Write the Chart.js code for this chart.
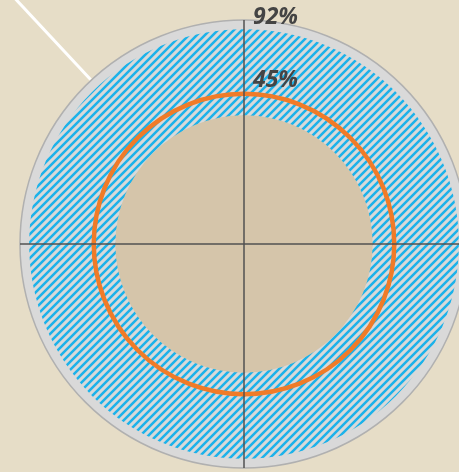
<!DOCTYPE html>
<html>
<head>
<meta charset="utf-8">
<script src="https://cdn.jsdelivr.net/npm/chart.js"></script>
<style>
  html, body { margin: 0; padding: 0; overflow: hidden; background: #e6ddc7; }
  body { width: 459px; height: 472px; position: relative; }
  .polar-chart { position: absolute; left: 0; top: 0; width: 488px; height: 488px; }
</style>
</head>
<body>
<div class="polar-chart"><canvas id="chart"></canvas></div>
<script>
// values (area-proportional, % of the full disc)
const seriesNames = ['Base', 'Achieved', 'Full scale'];
const seriesValues = [33, 92, 100];
const ringTicks = [0, 45, 100];          // 45 = target ring, 100 = outer edge
const labelValues = [92, 45];
const labelTexts = ['92%', '45%'];
const spokeLabels = ['N', 'E', 'S', 'W'];
const leaderAngle = -133;                // degrees, callout line

const ORANGE = '#f07b28';
const EDGE = '#b0b0b0';

// radius grows with sqrt so that disc areas match the percentages
class SqrtRadialScale extends Chart.RadialLinearScale {
    getDistanceFromCenterForValue(value) {
        if (isNaN(value)) return NaN;
        const frac = Math.max((value - this.min) / (this.max - this.min), 0);
        return this.drawingArea * Math.sqrt(frac);
    }
}
SqrtRadialScale.id = 'sqrtRadial';
Chart.register(SqrtRadialScale);

const canvas = document.getElementById('chart');
const ctx = canvas.getContext('2d');

function makeHatch() {
    const size = 8;
    const tile = document.createElement('canvas');
    tile.width = size;
    tile.height = size;
    const g = tile.getContext('2d');
    g.fillStyle = '#d9d9d9';
    g.fillRect(0, 0, size, size);
    g.strokeStyle = '#1cb2ea';
    g.lineWidth = 2.5;
    g.beginPath();
    g.moveTo(-1, size + 1); g.lineTo(size + 1, -1);
    g.moveTo(-2, 2); g.lineTo(2, -2);
    g.moveTo(size - 2, size + 2); g.lineTo(size + 2, size - 2);
    g.stroke();
    return ctx.createPattern(tile, 'repeat');
}

const fills = ['#d5c5aa', makeHatch(), '#d9d9d9'];

const overlay = {
    id: 'overlay',
    afterDraw(chart) {
        const r = chart.scales.r;
        const c = chart.ctx;
        const cx = r.xCenter, cy = r.yCenter;
        const outer = r.getDistanceFromCenterForValue(r.max);
        const a = leaderAngle * Math.PI / 180;
        c.save();
        c.strokeStyle = '#ffffff';
        c.lineWidth = 3;
        c.beginPath();
        c.moveTo(cx + Math.cos(a) * (outer + 1), cy + Math.sin(a) * (outer + 1));
        c.lineTo(cx + Math.cos(a) * (outer + 160), cy + Math.sin(a) * (outer + 160));
        c.stroke();

        c.font = 'italic bold 23px "Open Sans"';
        c.fillStyle = '#444444';
        c.textAlign = 'left';
        c.textBaseline = 'alphabetic';
        labelValues.forEach((v, i) => {
            let top = cy - r.getDistanceFromCenterForValue(v);
            if (ringTicks.includes(v)) top -= 2;
            c.fillText(labelTexts[i], cx + 9, top - 5);
        });
        c.restore();
    }
};

new Chart(ctx, {
    type: 'polarArea',
    data: {
        labels: spokeLabels,
        datasets: seriesValues.map((v, i) => ({
            label: seriesNames[i],
            data: [v],
            backgroundColor: fills[i],
            borderWidth: 0,
        })),
    },
    options: {
        responsive: true,
        maintainAspectRatio: false,
        animation: false,
        events: [],
        layout: { padding: 20 },
        plugins: {
            legend: { display: false },
            tooltip: { enabled: false },
        },
        scales: {
            r: {
                type: 'sqrtRadial',
                min: 0,
                max: 100,
                ticks: { display: false, z: 1 },
                pointLabels: { display: false },
                grid: {
                    z: 1,
                    circular: true,
                    color: (c) => c.tick && c.tick.value === ringTicks[1] ? ORANGE : EDGE,
                    lineWidth: (c) => c.tick && c.tick.value === ringTicks[1] ? 4.5 : 1.5,
                },
                angleLines: { display: true, color: '#505050', lineWidth: 1.5 },
                afterBuildTicks: (scale) => {
                    scale.ticks = ringTicks.map((v) => ({ value: v }));
                },
            },
        },
    },
    plugins: [overlay],
});
</script>
</body>
</html>
